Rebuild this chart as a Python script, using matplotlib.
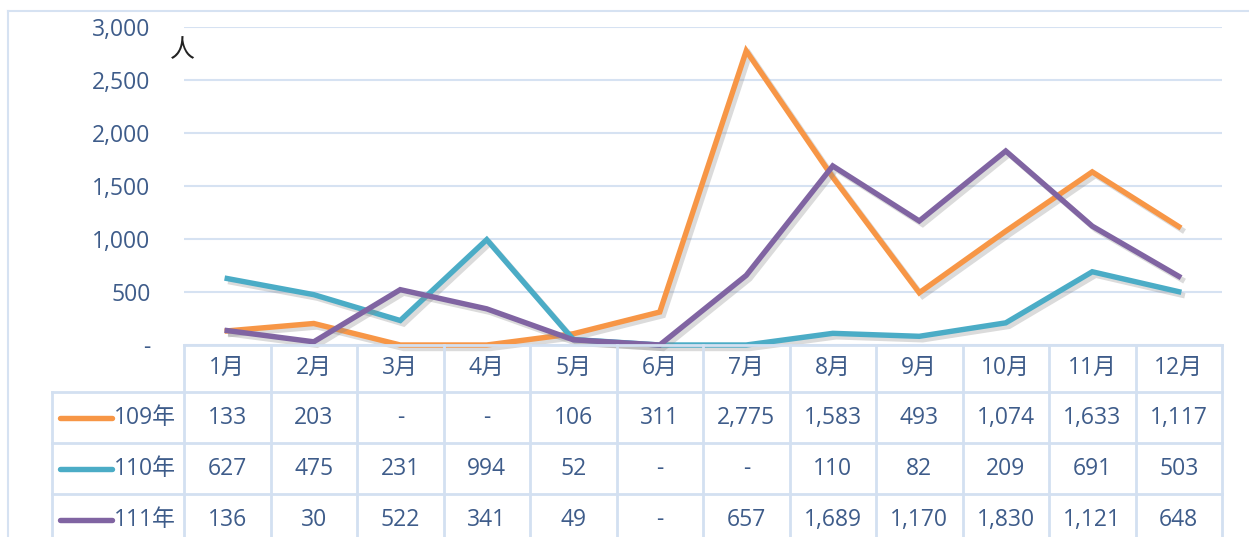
import matplotlib
matplotlib.use('Agg')
import matplotlib.pyplot as plt
import matplotlib.patheffects as pe
from matplotlib.lines import Line2D
from matplotlib.transforms import blended_transform_factory

plt.rcParams['font.family'] = ['Open Sans', 'Noto Sans CJK TC', 'DejaVu Sans']

months = ['1月', '2月', '3月', '4月', '5月', '6月', '7月', '8月', '9月', '10月', '11月', '12月']
series_names = ['109年', '110年', '111年']
y109 = [133, 203, 0, 0, 106, 311, 2775, 1583, 493, 1074, 1633, 1117]
y110 = [627, 475, 231, 994, 52, 0, 0, 110, 82, 209, 691, 503]
y111 = [136, 30, 522, 341, 49, 0, 657, 1689, 1170, 1830, 1121, 648]
series = [y109, y110, y111]
colors = ['#F79646', '#4BACC6', '#8064A2']
yticks = [0, 500, 1000, 1500, 2000, 2500, 3000]

W, H = 1249, 537
txt = '#3E5C8A'
gridc = '#D6E2F2'
fs = 16.5

def fx(x):
    return x / W

def fy(y):
    return 1 - y / H

fig = plt.figure(figsize=(W / 100, H / 100), dpi=100)
ax = fig.add_axes([fx(184), fy(345), 1038 / W, 318 / H])

x = list(range(len(months)))
for vals, c in zip(series, colors):
    ax.plot(x, vals, color=c, lw=3.9, clip_on=False, solid_joinstyle='miter',
            path_effects=[pe.SimpleLineShadow(offset=(2.5, -2.5), shadow_color='#888888', alpha=0.3),
                          pe.Normal()])

ax.set_xlim(-0.5, 11.5)
ax.set_ylim(0, 3000)
ax.set_yticks(yticks)
ax.set_yticklabels(['-' if v == 0 else f'{v:,}' for v in yticks], color=txt, fontsize=fs)
ax.set_xticks([])
ax.tick_params(axis='y', length=0, pad=24)
ax.grid(axis='y', color=gridc, lw=1.5)
ax.set_axisbelow(True)
for s in ax.spines.values():
    s.set_visible(False)
fig.text(fx(182), fy(50), '人', fontsize=18, color='#222222', ha='center', va='center',
         family=['Noto Sans CJK TC'])

# outer chart border
fig.add_artist(Line2D([fx(8), fx(8)], [fy(11), fy(H)], color=gridc, lw=1.5))
fig.add_artist(Line2D([fx(8), 1], [fy(11), fy(11)], color=gridc, lw=1.5))

# data table
tr = blended_transform_factory(ax.transData, fig.transFigure)
lc = '#D3E0F1'
for i in range(len(months) + 1):
    fig.add_artist(Line2D([i - 0.5, i - 0.5], [fy(345), 0], transform=tr, color=lc, lw=2))
fig.add_artist(Line2D([-0.5, 11.5], [fy(345), fy(345)], transform=tr, color=lc, lw=2))
for yy in [392, 443, 494]:
    fig.add_artist(Line2D([fx(52), fx(1222)], [fy(yy), fy(yy)], color=lc, lw=2))
fig.add_artist(Line2D([fx(52), fx(52)], [fy(392), 0], color=lc, lw=2))

for i, m in enumerate(months):
    fig.text(i, fy(368), m, transform=tr, ha='center', va='center', color=txt, fontsize=fs)

row_y = [418, 469, 520]
for vals, name, c, ry in zip(series, series_names, colors, row_y):
    fig.add_artist(Line2D([fx(60), fx(112)], [fy(ry), fy(ry)], color=c, lw=3.9, solid_capstyle='round'))
    fig.text(fx(114), fy(ry), name, ha='left', va='center', color=txt, fontsize=fs)
    for i, v in enumerate(vals):
        fig.text(i, fy(ry), '-' if v == 0 else f'{v:,}', transform=tr,
                 ha='center', va='center', color=txt, fontsize=fs)

fig.savefig('out.png', dpi=100, facecolor='white')
